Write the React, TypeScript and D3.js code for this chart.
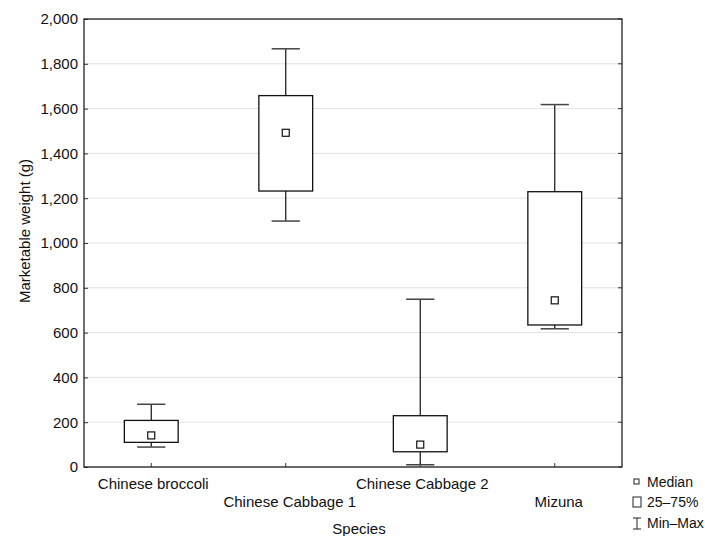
import React, { useEffect, useRef } from 'react';
import * as d3 from 'd3';

// data
const species = ['Chinese broccoli', 'Chinese Cabbage 1', 'Chinese Cabbage 2', 'Mizuna'];
const minVals = [89, 1098, 10, 617];
const q1Vals = [110, 1232, 68, 634];
const medianVals = [141, 1492, 100, 744];
const q3Vals = [208, 1658, 229, 1229];
const maxVals = [280, 1867, 749, 1618];
const yTickValues = [0, 200, 400, 600, 800, 1000, 1200, 1400, 1600, 1800, 2000];
const legendLabels = ['Median', '25\u201375%', 'Min\u2013Max'];

const FONT = '"Liberation Sans", Arial, sans-serif';

export default function App() {
  const ref = useRef<SVGSVGElement>(null);

  useEffect(() => {
    const svg = d3.select(ref.current);
    svg.selectAll('*').remove();

    var left = 84, right = 622, top = 19, bottom = 467;

    var x = d3.scaleBand().domain(species).range([left, right]);
    var y = d3.scaleLinear().domain([0, 2000]).range([bottom, top]);
    var fmt = d3.format(',');

    // gridlines
    svg.append('g')
      .selectAll('line')
      .data(yTickValues)
      .enter().append('line')
      .attr('x1', left).attr('x2', right)
      .attr('y1', d => y(d)).attr('y2', d => y(d))
      .attr('stroke', '#e2e2e2')
      .attr('stroke-width', 1);

    // left axis (ticks drawn inward)
    var yAxis = d3.axisLeft(y).tickValues(yTickValues).tickSize(-4).tickPadding(6).tickFormat(d => fmt(d as number));
    var gy = svg.append('g').attr('transform', 'translate(' + left + ',0)').call(yAxis);
    gy.select('.domain').remove();
    gy.selectAll('text').attr('font-family', FONT).attr('font-size', 15).attr('fill', '#111');
    gy.selectAll('line').attr('stroke', '#333');

    // right axis ticks
    svg.append('g')
      .selectAll('line')
      .data(yTickValues)
      .enter().append('line')
      .attr('x1', right - 4).attr('x2', right)
      .attr('y1', d => y(d)).attr('y2', d => y(d))
      .attr('stroke', '#333');

    // bottom axis ticks (inward)
    svg.append('g')
      .selectAll('line')
      .data(species)
      .enter().append('line')
      .attr('x1', d => x(d)! + x.bandwidth() / 2).attr('x2', d => x(d)! + x.bandwidth() / 2)
      .attr('y1', bottom).attr('y2', bottom - 4)
      .attr('stroke', '#333');

    // frame
    svg.append('rect')
      .attr('x', left).attr('y', top)
      .attr('width', right - left).attr('height', bottom - top)
      .attr('fill', 'none').attr('stroke', '#222').attr('stroke-width', 1.3);

    // category labels, staggered
    svg.append('g')
      .selectAll('text')
      .data(species)
      .enter().append('text')
      .attr('x', (d, i) => x(d)! + x.bandwidth() / 2 + (i % 2 === 1 ? 4 : 2))
      .attr('y', (d, i) => (i % 2 === 0 ? 489 : 507))
      .attr('text-anchor', 'middle')
      .attr('font-family', FONT).attr('font-size', 15).attr('fill', '#111')
      .text(d => d);

    svg.append('text')
      .attr('x', 359).attr('y', 534)
      .attr('text-anchor', 'middle')
      .attr('font-family', FONT).attr('font-size', 15).attr('fill', '#111')
      .text('Species');

    svg.append('text')
      .attr('transform', 'translate(30,231) rotate(-90)')
      .attr('text-anchor', 'middle')
      .attr('font-family', FONT).attr('font-size', 15).attr('fill', '#111')
      .text('Marketable weight (g)');

    // boxes
    var boxW = x.bandwidth() * 0.4;
    var capW = x.bandwidth() * 0.21;
    var boxes = svg.append('g')
      .selectAll('g')
      .data(species)
      .enter().append('g')
      .attr('transform', d => 'translate(' + (x(d)! + x.bandwidth() / 2) + ',0)');

    // whiskers
    boxes.append('line')
      .attr('x1', 0).attr('x2', 0)
      .attr('y1', (d, i) => y(q3Vals[i])).attr('y2', (d, i) => y(maxVals[i]))
      .attr('stroke', '#111').attr('stroke-width', 1.2);
    boxes.append('line')
      .attr('x1', 0).attr('x2', 0)
      .attr('y1', (d, i) => y(q1Vals[i])).attr('y2', (d, i) => y(minVals[i]))
      .attr('stroke', '#111').attr('stroke-width', 1.2);
    boxes.append('line')
      .attr('x1', -capW / 2).attr('x2', capW / 2)
      .attr('y1', (d, i) => y(maxVals[i])).attr('y2', (d, i) => y(maxVals[i]))
      .attr('stroke', '#444').attr('stroke-width', 1.5);
    boxes.append('line')
      .attr('x1', -capW / 2).attr('x2', capW / 2)
      .attr('y1', (d, i) => y(minVals[i])).attr('y2', (d, i) => y(minVals[i]))
      .attr('stroke', '#444').attr('stroke-width', 1.5);

    // 25-75% box
    boxes.append('rect')
      .attr('x', -boxW / 2).attr('width', boxW)
      .attr('y', (d, i) => y(q3Vals[i]))
      .attr('height', (d, i) => y(q1Vals[i]) - y(q3Vals[i]))
      .attr('fill', 'white').attr('stroke', '#111').attr('stroke-width', 1.3);

    // median marker
    boxes.append('rect')
      .attr('x', -3.5).attr('width', 7)
      .attr('y', (d, i) => y(medianVals[i]) - 3.5).attr('height', 7)
      .attr('fill', 'white').attr('stroke', '#111').attr('stroke-width', 1.2);

    // legend
    var lg = svg.append('g').attr('transform', 'translate(636,0)');
    var rowY = [482, 502, 523];
    lg.append('rect').attr('x', -2).attr('y', rowY[0] - 3).attr('width', 5).attr('height', 5)
      .attr('fill', 'white').attr('stroke', '#222').attr('stroke-width', 1);
    lg.append('rect').attr('x', -3).attr('y', rowY[1] - 5).attr('width', 8).attr('height', 10)
      .attr('fill', 'white').attr('stroke', '#222').attr('stroke-width', 1);
    lg.append('path')
      .attr('d', 'M-3,' + (rowY[2] - 5) + 'H5M1,' + (rowY[2] - 5) + 'V' + (rowY[2] + 6) + 'M-3,' + (rowY[2] + 6) + 'H5')
      .attr('fill', 'none').attr('stroke', '#222').attr('stroke-width', 1);
    lg.selectAll('text.lbl')
      .data(legendLabels)
      .enter().append('text')
      .attr('class', 'lbl')
      .attr('x', 11)
      .attr('y', (d, i) => rowY[i] + 5)
      .attr('font-family', FONT).attr('font-size', 14).attr('fill', '#111')
      .text(d => d);
  }, []);

  return (
    <svg
      ref={ref}
      width={705}
      height={536}
      style={{ position: 'absolute', left: 0, top: 0, background: 'white' }}
    />
  );
}
